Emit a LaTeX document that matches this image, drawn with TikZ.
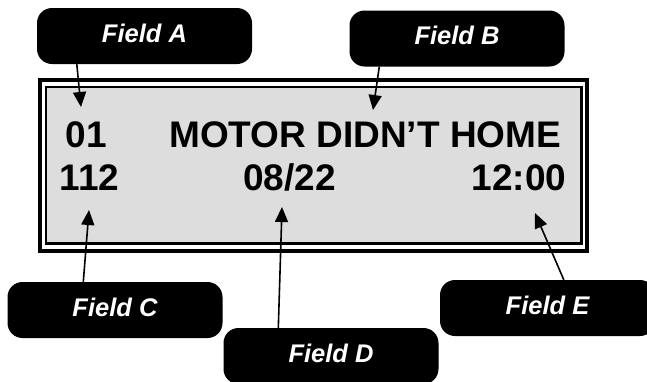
\documentclass[tikz,border=0pt]{standalone}
\usepackage{fontspec}
\setmainfont{Liberation Sans}
\usepackage{xcolor}
\definecolor{lcdgray}{RGB}{221,221,221}
\usepackage{tikz}
\usetikzlibrary{arrows.meta}
\newcommand{\widthfield}{215pt}
\newcommand{\heightfield}{56pt}
\tikzset{
    field/.style={fill=black, text=white, rounded corners=15pt, minimum width=\widthfield, minimum height=\heightfield, inner sep=0pt, text depth=6pt, font=\fontsize{25.5}{28}\selectfont\bfseries\itshape},
    lcd/.style={anchor=base west, inner sep=0pt, font=\fontsize{37}{42}\selectfont\bfseries},
    pointer/.style={-{Triangle[length=15pt, width=13pt]}, line width=1.6pt},
    frame/.style={draw, line width=3.3pt, fill=white},
    screen/.style={draw, line width=2.5pt, fill=lcdgray}
}
\begin{document}
\begin{tikzpicture}[x=1pt, y=-1pt]
      \clip (0,0) rectangle (647,381);

      % display
      \path[frame] (40,80) rectangle (587,251);
      \path[screen] (46,87) rectangle (581.5,243.5);

      \path
          (65.5,147) node[lcd] (code) {01}
          (169,147) node[lcd] (message) {MOTOR DIDN’T HOME}
          (59.5,190) node[lcd] (count) {112}
          (243,190) node[lcd] (date) {08/22}
          (566.5,190) node[lcd, anchor=base east] (time) {12:00};

      % callouts
      \path
          (144.5,36) node[field] (field-a) {Field A}
          (457,38.5) node[field] (field-b) {Field B}
          (115,310) node[field] (field-c) {Field C}
          (331,356) node[field] (field-d) {Field D}
          (547.5,308) node[field] (field-e) {Field E};

      \coordinate (tip-a) at (81,107);
      \coordinate (tip-b) at (373,110);
      \coordinate (tip-c) at (89,210);
      \coordinate (tip-d) at (282,207);
      \coordinate (tip-e) at (535,213);

      \draw[pointer] (field-a.south west) ++(40,0) -- (tip-a);
      \draw[pointer] (field-b.south west) ++(30,0) -- (tip-b);
      \draw[pointer] (field-c.north west) ++(76,0) -- (tip-c);
      \draw[pointer] (field-d.north west) ++(55,0) -- (tip-d);
      \draw[pointer] (field-e.north west) ++(124,0) -- (tip-e);
    \end{tikzpicture}
\end{document}
